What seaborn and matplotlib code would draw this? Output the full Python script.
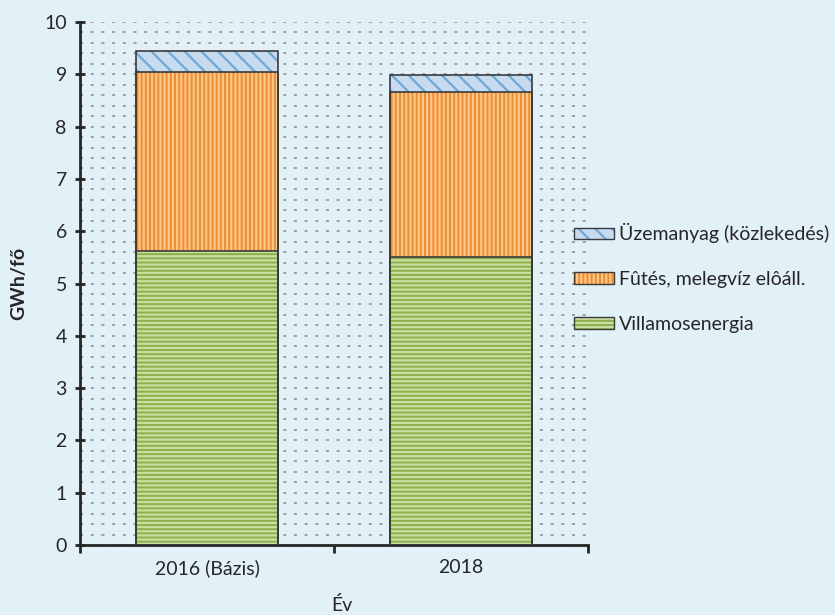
import numpy as np
import pandas as pd
import matplotlib
matplotlib.use("Agg")
import matplotlib.pyplot as plt
from matplotlib.patches import Patch
from matplotlib.legend_handler import HandlerTuple
from matplotlib.ticker import MultipleLocator, FixedLocator
import seaborn as sns

# Data
years = ["2016 (Bázis)", "2018"]
villamos = [5.62, 5.51]
futes = [3.43, 3.15]
uzemanyag = [0.40, 0.33]

labels = ["Üzemanyag (közlekedés)", "Fûtés, melegvíz elôáll.", "Villamosenergia"]

bg = "#e2f0f8"
text_col = "#262626"
fs = 14

sns.set_theme(style="white")
plt.rcParams["font.family"] = ["Lato", "DejaVu Sans"]
plt.rcParams["hatch.linewidth"] = 1.6

fig = plt.figure(figsize=(8.35, 6.15), dpi=100, facecolor=bg)
ax = fig.add_axes([0.0958, 0.1138, 0.6083, 0.8504], facecolor=bg)

# stacked bars drawn as cumulative totals, largest first
cum_green = np.array(villamos)
cum_orange = cum_green + np.array(futes)
cum_blue = cum_orange + np.array(uzemanyag)

layers = [
    (cum_blue, "#c6dbef", "#6fa8d6", "\\\\"),
    (cum_orange, "#f68b1f", "#fdc996", "||||"),
    (cum_green, "#8db04a", "#c9dfa1", "----"),
]
df = pd.DataFrame({"Év": years})
for vals, face, hcol, hatch in layers:
    df["v"] = vals
    sns.barplot(data=df, x="Év", y="v", color=face, saturation=1, width=0.56,
                hatch=hatch, edgecolor=hcol, linewidth=0, ax=ax, zorder=3)
    sns.barplot(data=df, x="Év", y="v", facecolor="none", saturation=1, width=0.56,
                edgecolor="#3a3a3a", linewidth=1.2, ax=ax, zorder=4)

ax.set_xlim(-0.5, 1.5)
ax.set_ylim(0, 10)

# dotted grid every 0.2
ax.yaxis.set_major_locator(MultipleLocator(1))
ax.yaxis.set_minor_locator(MultipleLocator(0.2))
ax.grid(which="both", axis="y", color="#8a8a8a", linestyle=(0, (2, 5)), linewidth=1.1, zorder=0)
ax.grid(False, axis="x")
ax.set_axisbelow(True)

ax.xaxis.set_minor_locator(FixedLocator([-0.5, 0.5, 1.5]))
ax.tick_params(axis="x", which="major", length=0, pad=10, labelsize=fs, labelcolor=text_col)
ax.tick_params(axis="x", which="minor", length=6, width=2, direction="out", color=text_col, bottom=True)
ax.tick_params(axis="y", which="major", length=7, width=2, direction="inout", color=text_col,
               labelsize=fs, labelcolor=text_col, pad=6, left=True)
ax.tick_params(axis="y", which="minor", length=0)

for s in ["top", "right"]:
    ax.spines[s].set_visible(False)
for s in ["left", "bottom"]:
    ax.spines[s].set_color(text_col)
    ax.spines[s].set_linewidth(2)

ax.set_ylabel("GWh/fő", fontsize=fs, fontweight="bold", color=text_col, labelpad=12)
ax.set_xlabel("")
fig.text(0.41, 0.016, "Év", fontsize=fs, color=text_col, ha="center", va="center")

handles = []
for vals, face, hcol, hatch in layers:
    h1 = Patch(facecolor=face, edgecolor=hcol, hatch=hatch, linewidth=0)
    h2 = Patch(facecolor="none", edgecolor="#3a3a3a", linewidth=1.0)
    handles.append((h1, h2))
fig.legend(handles=handles, labels=labels, loc="upper left", bbox_to_anchor=(0.687, 0.637),
           frameon=False, fontsize=fs, labelcolor=text_col, handlelength=2.1, handleheight=0.55,
           handletextpad=0.25, labelspacing=1.43, borderaxespad=0, borderpad=0,
           handler_map={tuple: HandlerTuple(ndivide=1, pad=0)})

fig.savefig("out.png", dpi=100, facecolor=bg)
